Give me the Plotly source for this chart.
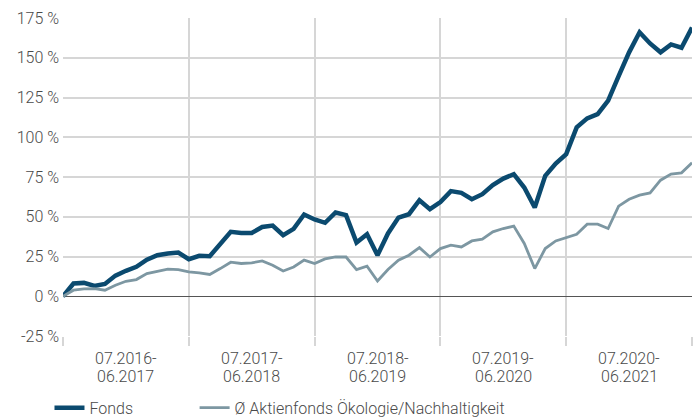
import plotly.graph_objects as go

months = list(range(61))
fonds = [0, 8, 8.4, 6.5, 7.7, 13, 16, 18.5, 23, 25.8, 26.9, 27.5,
         23.3, 25.4, 25.2, 32.7, 40.5, 39.8, 39.8, 43.6, 44.5, 38.4, 42.4, 51.4,
         48.3, 46.2, 52.7, 51, 33.8, 39, 25.8, 39.5, 49.5, 51.6, 60.4, 54.8,
         59.2, 66.1, 65, 61, 64.2, 69.9, 74, 76.8, 68.4, 55.8, 75.7, 83.5,
         89.4, 106.2, 111.9, 114.6, 123, 138.5, 153.4, 166, 159, 153.4, 158.4, 156.3,
         169]
avg = [0, 3.8, 4.6, 4.8, 3.8, 6.9, 9.4, 10.5, 14.3, 15.7, 17, 16.8,
       15.3, 14.7, 13.7, 17.4, 21.4, 20.6, 21, 22.2, 19.5, 15.9, 18.4, 22.7,
       20.6, 23.5, 24.7, 24.7, 16.8, 18.9, 9.6, 16.8, 22.7, 25.8, 30.6, 24.7,
       30, 32.1, 31, 34.8, 35.9, 40.5, 42.6, 44.1, 33.2, 17.4, 30, 34.8,
       36.9, 39, 45.3, 45.3, 42.6, 56.7, 61, 63.6, 65, 73, 76.8, 77.6,
       83.9]
period_start = ["07.2016-", "07.2017-", "07.2018-", "07.2019-", "07.2020-"]
period_end = ["06.2017", "06.2018", "06.2019", "06.2020", "06.2021"]
period_centers = [6, 18, 30, 42, 54]
period_bounds = [0, 12, 24, 36, 48, 60]
y_ticks = [-25, 0, 25, 50, 75, 100, 125, 150, 175]
y_ticktext = ["-25 %", "0 %", "25 %", "50 %", "75 %", "100 %", "125 %", "150 %", "175 %"]

FONT = "Roboto, sans-serif"
TXT = dict(family=FONT, size=16, color="#4a4a4a", weight=300)
fig = go.Figure()
fig.add_trace(go.Scatter(x=months, y=fonds, mode="lines", name="Fonds",
                         line=dict(color="#0b4a6f", width=4.5), legend="legend"))
fig.add_trace(go.Scatter(x=months, y=avg, mode="lines",
                         name="Ø Aktienfonds Ökologie/Nachhaltigkeit",
                         line=dict(color="#7d97a2", width=2.8), legend="legend2"))

for c, t1, t2 in zip(period_centers, period_start, period_end):
    fig.add_annotation(x=c, xref="x", y=-0.0708, yref="paper", text=t1, showarrow=False,
                       yanchor="middle", font=TXT)
    fig.add_annotation(x=c, xref="x", y=-0.1258, yref="paper", text=t2, showarrow=False,
                       yanchor="middle", font=TXT)

leg_common = dict(orientation="h", xref="container", yref="container",
                  y=0.029, xanchor="left", yanchor="middle",
                  font=TXT, itemwidth=30, bgcolor="rgba(0,0,0,0)")
fig.update_layout(
    width=700, height=420,
    margin=dict(l=63, r=8, t=18, b=84),
    plot_bgcolor="white", paper_bgcolor="white",
    font=TXT,
    showlegend=True,
    legend=dict(x=0.0707, **leg_common),
    legend2=dict(x=0.278, **leg_common),
    xaxis=dict(range=[0, 60], tickvals=period_bounds, ticktext=[""] * 6,
               showgrid=True, gridcolor="#d6d6d6", gridwidth=2,
               ticks="outside", ticklen=9, tickcolor="#d6d6d6", tickwidth=2,
               zeroline=False, showline=False),
    yaxis=dict(range=[-25, 175], tickvals=y_ticks, ticktext=y_ticktext,
               showgrid=True, gridcolor="#d6d6d6", gridwidth=2,
               zeroline=True, zerolinecolor="#555555", zerolinewidth=1.2,
               ticks="", showline=False, tickfont=TXT, ticklabelstandoff=3),
)
fig.write_html("out.html")
